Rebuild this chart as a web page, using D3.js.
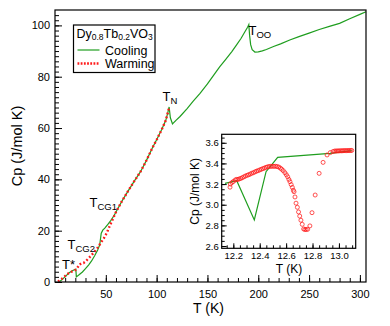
<!DOCTYPE html>
<html>
<head>
<meta charset="utf-8">
<script src="https://cdn.jsdelivr.net/npm/d3@7"></script>
<style>
  body { margin: 0; background: #fff; }
  text { font-family: "Liberation Sans", Arial, sans-serif; }
</style>
</head>
<body>
<div id="viz"></div>
<script>
// Main panel: cooling (green line) and warming (red dots)
const coolT = [5, 8, 11, 14, 17, 19, 20.5, 21, 24, 27, 30, 33, 36, 39, 42, 44, 45.5, 47, 49, 52, 55, 58,
  60, 66, 72, 78, 84, 90, 96, 100, 105, 109, 111, 112.3, 113.5, 115.6, 119, 123, 130, 136, 142.5, 150,
  156, 162, 168, 174, 179, 183, 187, 189.5, 190.7, 191.5, 192.5, 194, 196.7, 200, 204, 208, 215, 222,
  231, 240, 250, 260, 270, 280, 290, 300, 306];
const coolCp = [0.3, 1.3, 2.5, 3.6, 4.4, 4.8, 5.0, 2.0, 2.9, 3.9, 5.2, 6.6, 8.2, 10.2, 12.5, 14.5, 19.0, 20.2, 21.0, 22.5, 24.0, 25.8,
  27.3, 31.6, 35.5, 39.3, 42.9, 47.4, 52.4, 55.4, 59.4, 63.0, 66.0, 68.2, 64.0, 61.6, 63.0, 64.5, 67.6, 70.5, 73.4, 77.2,
  80.5, 83.8, 86.8, 89.8, 92.6, 94.9, 97.6, 99.3, 100.3, 96.0, 92.5, 90.5, 89.6, 89.7, 90.1, 90.6, 91.8, 92.8,
  94.3, 95.6, 97.0, 98.4, 99.6, 100.8, 102.6, 104.3, 105.3];

const warmT = [3, 6, 9, 12, 15, 18, 20, 22, 24, 26, 28, 30, 33, 36, 39, 42, 45, 48, 51, 54, 57,
  60, 66, 72, 78, 84, 90, 96, 100, 105, 109, 111, 112.3];
const warmCp = [0.2, 1.0, 2.0, 3.0, 3.8, 4.3, 4.7, 5.5, 6.8, 7.3, 7.4, 8.0, 9.2, 10.5, 11.8, 13.4, 15.2, 17.0, 19.2, 22.0, 24.6,
  27.3, 31.6, 35.5, 39.3, 42.9, 47.4, 52.4, 55.4, 59.4, 63.0, 66.0, 68.0];

// Inset: zoom around 12-13 K
const insetCoolT = [12.137, 12.226, 12.359, 12.448, 12.536, 12.932, 13.097];
const insetCoolCp = [3.207, 3.232, 2.852, 3.32, 3.459, 3.498, 3.523];

const insetWarmT = [12.175, 12.178, 12.19, 12.2, 12.215, 12.225, 12.235, 12.245, 12.257, 12.268, 12.28, 12.292,
  12.305, 12.316, 12.328, 12.34, 12.352, 12.364, 12.376, 12.388, 12.4, 12.412, 12.424, 12.436, 12.448, 12.46,
  12.472, 12.484, 12.496, 12.508, 12.52, 12.532, 12.544, 12.556, 12.566, 12.578, 12.591, 12.602, 12.612, 12.621,
  12.629, 12.638, 12.647, 12.655, 12.66, 12.667, 12.675, 12.685, 12.694, 12.703, 12.712, 12.722, 12.733, 12.742,
  12.752, 12.763, 12.78, 12.796, 12.82, 12.85, 12.88, 12.91, 12.935, 12.955, 12.968, 12.978, 12.988, 12.998,
  13.008, 13.018, 13.028, 13.038, 13.048, 13.058, 13.068, 13.078, 13.088, 13.097];
const insetWarmCp = [3.17, 3.2, 3.215, 3.225, 3.24, 3.245, 3.245, 3.25, 3.255, 3.262, 3.27, 3.278,
  3.285, 3.29, 3.297, 3.305, 3.31, 3.318, 3.325, 3.33, 3.337, 3.343, 3.35, 3.355, 3.362, 3.367,
  3.37, 3.372, 3.372, 3.372, 3.372, 3.37, 3.365, 3.355, 3.344, 3.33, 3.31, 3.29, 3.27, 3.245,
  3.223, 3.195, 3.168, 3.14, 3.126, 3.075, 3.015, 2.975, 2.93, 2.89, 2.85, 2.81, 2.765, 2.76,
  2.76, 2.762, 2.795, 2.923, 3.094, 3.304, 3.41, 3.482, 3.505, 3.515, 3.52, 3.52, 3.521, 3.521,
  3.522, 3.522, 3.523, 3.523, 3.524, 3.524, 3.524, 3.525, 3.525, 3.526];

const mainXTicks = [50, 100, 150, 200, 250, 300];
const mainYTicks = [0, 20, 40, 60, 80, 100];
const insetXTicks = [12.2, 12.4, 12.6, 12.8, 13.0];
const insetYTicks = [2.6, 2.8, 3.0, 3.2, 3.4, 3.6];

const width = 390;
const height = 326;
const green = '#1f9e1f';
const red = '#ff1a1a';

const svg = d3.select('#viz')
  .append('svg')
    .attr('width', width)
    .attr('height', height);

const main = {left: 55, right: 366, top: 10, bottom: 282};
const x = d3.scaleLinear().domain([0, 306]).range([main.left, main.right]);
const y = d3.scaleLinear().domain([0, 106]).range([main.bottom, main.top]);

// axes with ticks pointing inward
const drawAxes = (xs, ys, box, opt) => {
  const gx = svg.append('g').attr('transform', `translate(0, ${box.bottom})`);
  gx.call(d3.axisBottom(xs).tickValues(opt.xMinor).tickSize(-opt.minor).tickFormat(''));
  gx.append('g').call(d3.axisBottom(xs).tickValues(opt.xTicks).tickSize(-opt.major)
    .tickPadding(opt.xPad).tickFormat(opt.xFmt));
  const gy = svg.append('g').attr('transform', `translate(${box.left}, 0)`);
  gy.call(d3.axisLeft(ys).tickValues(opt.yMinor).tickSize(-opt.minor).tickFormat(''));
  gy.append('g').call(d3.axisLeft(ys).tickValues(opt.yTicks).tickSize(-opt.major)
    .tickPadding(opt.yPad).tickFormat(opt.yFmt));
  svg.selectAll('.domain').remove();
  [gx, gy].forEach(g => g.selectAll('text')
    .style('font-family', '"Liberation Sans", Arial, sans-serif')
    .style('font-size', opt.fs + 'px')
    .attr('fill', '#000'));
  svg.append('rect')
    .attr('x', box.left).attr('y', box.top)
    .attr('width', box.right - box.left).attr('height', box.bottom - box.top)
    .attr('fill', 'none').attr('stroke', '#000').attr('stroke-width', 1.2);
};

const line = (xs, ys) => d3.line().x(d => xs(d[0])).y(d => ys(d[1]));

// main curves
svg.append('path')
  .attr('d', line(x, y)(coolT.map((t, i) => [t, coolCp[i]])))
  .attr('fill', 'none').attr('stroke', green).attr('stroke-width', 1.2);
svg.append('path')
  .attr('d', line(x, y)(warmT.map((t, i) => [t, warmCp[i]])))
  .attr('fill', 'none').attr('stroke', red).attr('stroke-width', 2.4)
  .attr('stroke-dasharray', '1.8,2.2');

drawAxes(x, y, main, {
  xTicks: mainXTicks, xMinor: d3.range(10, 306, 10), yTicks: mainYTicks, yMinor: d3.range(0, 106, 2),
  major: 7, minor: 4, xPad: 8, yPad: 5, fs: 11, xFmt: d3.format('d'), yFmt: d3.format('d')
});

svg.append('text')
  .attr('transform', `translate(22, ${(main.top + main.bottom) / 2}) rotate(-90)`)
  .attr('text-anchor', 'middle')
  .style('font-size', '14.5px')
  .text('Cp (J/mol K)');
svg.append('text')
  .attr('x', (main.left + main.right) / 2 - 2).attr('y', 313)
  .attr('text-anchor', 'middle')
  .style('font-size', '14px')
  .text('T (K)');

// annotations with subscripts
const label = (px, py, main, sub, fs) => {
  const t = svg.append('text').attr('x', px).attr('y', py).style('font-size', fs + 'px');
  t.append('tspan').text(main);
  if (sub) t.append('tspan').attr('dy', 3).style('font-size', '9.5px').text(sub);
};
label(162.5, 100.5, 'T', 'N', 13);
label(248.5, 35, 'T', 'OO', 13);
label(89.5, 206.5, 'T', 'CG1', 13);
label(67.5, 248.5, 'T', 'CG2', 13);
label(62, 268.5, 'T*', null, 13);

// legend
const legend = svg.append('g');
legend.append('rect')
  .attr('x', 73.5).attr('y', 25).attr('width', 81.5).attr('height', 47.5)
  .attr('fill', '#fff').attr('stroke', '#000').attr('stroke-width', 1.2);
const title = legend.append('text').attr('x', 76.5).attr('y', 38).style('font-size', '12.5px');
title.append('tspan').text('Dy');
title.append('tspan').attr('dy', 2).style('font-size', '8.5px').text('0.8');
title.append('tspan').attr('dy', -2).text('Tb');
title.append('tspan').attr('dy', 2).style('font-size', '8.5px').text('0.2');
title.append('tspan').attr('dy', -2).text('VO');
title.append('tspan').attr('dy', 2).style('font-size', '8.5px').text('3');
legend.append('line').attr('x1', 77.5).attr('x2', 99.5).attr('y1', 50).attr('y2', 50)
  .attr('stroke', green).attr('stroke-width', 1.2);
legend.append('text').attr('x', 105).attr('y', 54.5).style('font-size', '12.5px').text('Cooling');
legend.append('line').attr('x1', 77.5).attr('x2', 99.5).attr('y1', 63.5).attr('y2', 63.5)
  .attr('stroke', red).attr('stroke-width', 2.4).attr('stroke-dasharray', '1.8,1.4');
legend.append('text').attr('x', 105).attr('y', 68).style('font-size', '12.5px').text('Warming');

// inset
const inset = {left: 221.7, right: 355.7, top: 134.3, bottom: 248.3};
const xi = d3.scaleLinear().domain([12.112, 13.127]).range([inset.left, inset.right]);
const yi = d3.scaleLinear().domain([2.578, 3.682]).range([inset.bottom, inset.top]);

svg.append('rect')
  .attr('x', inset.left).attr('y', inset.top)
  .attr('width', inset.right - inset.left).attr('height', inset.bottom - inset.top)
  .attr('fill', '#fff');

svg.append('path')
  .attr('d', line(xi, yi)(insetCoolT.map((t, i) => [t, insetCoolCp[i]])))
  .attr('fill', 'none').attr('stroke', green).attr('stroke-width', 1.2);

svg.append('g')
  .selectAll('circle')
  .data(insetWarmT.map((t, i) => [t, insetWarmCp[i]]))
  .join('circle')
    .attr('cx', d => xi(d[0]))
    .attr('cy', d => yi(d[1]))
    .attr('r', 2)
    .attr('fill', 'none')
    .attr('stroke', red)
    .attr('stroke-width', 0.75);

drawAxes(xi, yi, inset, {
  xTicks: insetXTicks, xMinor: d3.range(12.15, 13.13, 0.05), yTicks: insetYTicks, yMinor: d3.range(2.6, 3.68, 0.05),
  major: 5, minor: 3, xPad: 4, yPad: 3, fs: 9.5, xFmt: d3.format('.1f'), yFmt: d3.format('.1f')
});

svg.append('text')
  .attr('transform', `translate(199, ${(inset.top + inset.bottom) / 2}) rotate(-90)`)
  .attr('text-anchor', 'middle')
  .style('font-size', '12px')
  .text('Cp (J/mol K)');
svg.append('text')
  .attr('x', 289).attr('y', 273)
  .attr('text-anchor', 'middle')
  .style('font-size', '12px')
  .text('T (K)');
</script>
</body>
</html>
